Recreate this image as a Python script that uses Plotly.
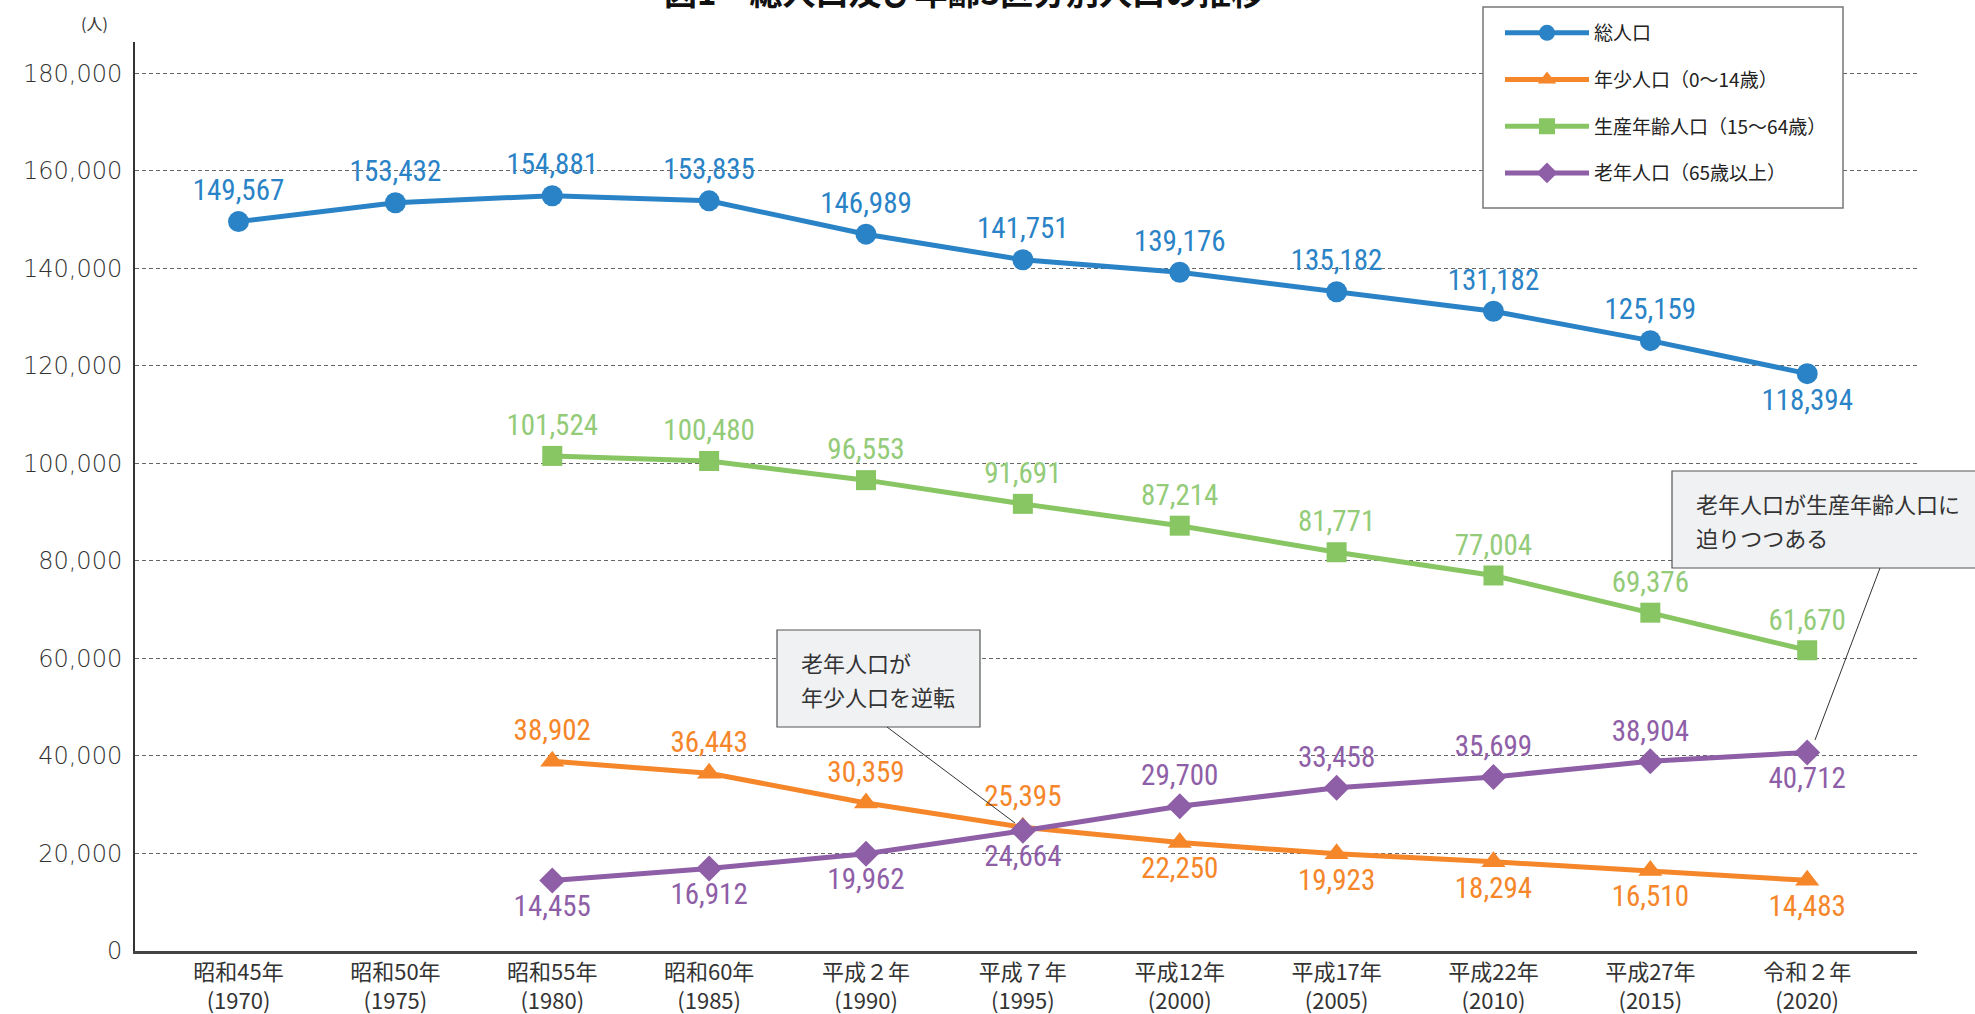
import plotly.graph_objects as go

# data
years = ["昭和45年<br>(1970)", "昭和50年<br>(1975)", "昭和55年<br>(1980)", "昭和60年<br>(1985)",
         "平成２年<br>(1990)", "平成７年<br>(1995)", "平成12年<br>(2000)", "平成17年<br>(2005)",
         "平成22年<br>(2010)", "平成27年<br>(2015)", "令和２年<br>(2020)"]
total = [149567, 153432, 154881, 153835, 146989, 141751, 139176, 135182, 131182, 125159, 118394]
young = [None, None, 38902, 36443, 30359, 25395, 22250, 19923, 18294, 16510, 14483]
working = [None, None, 101524, 100480, 96553, 91691, 87214, 81771, 77004, 69376, 61670]
elderly = [None, None, 14455, 16912, 19962, 24664, 29700, 33458, 35699, 38904, 40712]
yticks = [0, 20000, 40000, 60000, 80000, 100000, 120000, 140000, 160000, 180000]

# label positions
pos_total = ["top center"] * 10 + ["bottom center"]
pos_young = ["top center"] * 6 + ["bottom center"] * 5
pos_working = ["top center"] * 11
pos_elderly = ["bottom center"] * 6 + ["top center"] * 4 + ["bottom center"]

W, H = 1975, 1014
L, R, T, B = 135, 58, 42, 63
XR = [-0.66, 10.7]
YR = [0, 186400]
pw, ph = W - L - R, H - T - B


def px_x(px):
    return XR[0] + (px - L) / pw * (XR[1] - XR[0])


def px_y(py):
    return YR[0] + (H - B - py) / ph * (YR[1] - YR[0])


def pap_x(px):
    return (px - L) / pw


def pap_y(py):
    return (H - B - py) / ph


num_font = "Roboto Condensed, Liberation Sans Narrow, Roboto, sans-serif"
jp_font = "Noto Sans CJK JP, sans-serif"

series = [
    ("総人口", total, "#2A83C6", "#2A83C6", "circle", 21, pos_total),
    ("年少人口（0～14歳）", young, "#F5862A", "#F5862A", "triangle-up", 21, pos_young),
    ("生産年齢人口（15～64歳）", working, "#88C663", "#93CB78", "square", 20, pos_working),
    ("老年人口（65歳以上）", elderly, "#8E5EA7", "#8E5EA7", "diamond", 20, pos_elderly),
]

x = list(range(len(years)))
fig = go.Figure()
for i, (name, vals, col, tcol, sym, size, pos) in enumerate(series):
    fig.add_trace(go.Scatter(
        x=x, y=vals, name=name, mode="lines+markers+text",
        line=dict(color=col, width=5),
        marker=dict(symbol=sym, size=size, color=col),
        texttemplate="%{y:,}", textposition=pos,
        textfont=dict(family=num_font, size=29, color=tcol),
        legendgroup=str(i), cliponaxis=False,
    ))

# legend frame
fig.add_shape(type="rect", xref="paper", yref="paper",
              x0=pap_x(1483), x1=pap_x(1843), y0=pap_y(208), y1=pap_y(7),
              fillcolor="white", line=dict(color="#777777", width=1.5), layer="above")

# callout boxes
boxes = [
    (777, 630, 980, 727, ["老年人口が", "年少人口を逆転"], (887, 727, 1015, 823)),
    (1672, 471, 2000, 568, ["老年人口が生産年齢人口に", "迫りつつある"], (1880, 568, 1815, 740)),
]
for x0, y0, x1, y1, lines, lead in boxes:
    fig.add_shape(type="rect", xref="paper", yref="paper",
                  x0=pap_x(x0), x1=pap_x(x1), y0=pap_y(y1), y1=pap_y(y0),
                  fillcolor="#F0F1F3", line=dict(color="#555555", width=1.2), layer="above")
    for k, t in enumerate(lines):
        fig.add_annotation(xref="paper", yref="paper", x=pap_x(x0 + 22), y=pap_y(y0 + 32 + 34 * k),
                           text=t, showarrow=False, xanchor="left", yanchor="middle",
                           font=dict(family=jp_font, size=22, color="#333333"))
    fig.add_shape(type="line", xref="x", yref="y",
                  x0=px_x(lead[0]), y0=px_y(lead[1]), x1=px_x(lead[2]), y1=px_y(lead[3]),
                  line=dict(color="#333333", width=1), layer="above")

fig.add_annotation(xref="paper", yref="paper", x=pap_x(94), y=pap_y(23), text="(人)",
                   showarrow=False, xanchor="center", yanchor="middle",
                   font=dict(family=jp_font, size=16, color="#333333"))
fig.add_annotation(xref="paper", yref="paper", x=pap_x(964), y=pap_y(17), text="図1　総人口及び年齢3区分別人口の推移",
                   showarrow=False, xanchor="center", yanchor="bottom",
                   font=dict(family=jp_font, size=33, color="#111111", weight="bold"))

fig.update_layout(
    width=W, height=H,
    margin=dict(l=L, r=R, t=T, b=B, autoexpand=False),
    plot_bgcolor="white", paper_bgcolor="white",
    showlegend=True,
    legend=dict(x=pap_x(1500), y=pap_y(14), xanchor="left", yanchor="top",
                bgcolor="rgba(0,0,0,0)", borderwidth=0,
                font=dict(family=jp_font, size=19, color="#222222"),
                traceorder="grouped", tracegroupgap=19, itemwidth=84),
    xaxis=dict(range=XR, tickvals=x, ticktext=years, showgrid=False, zeroline=False,
               showline=True, linecolor="#444444", linewidth=2.5, ticks="",
               automargin=False,
               tickfont=dict(family=jp_font, size=22, color="#333333")),
    yaxis=dict(range=YR, tickvals=yticks, tickformat=",", showgrid=True,
               gridcolor="#666666", gridwidth=1, griddash="4px,3px", zeroline=False,
               showline=True, linecolor="#333333", linewidth=2, ticks="",
               ticklabelstandoff=6, automargin=False,
               tickfont=dict(family="DejaVu Sans, sans-serif", size=24, color="#333333", weight=300)),
)

# page body has a default 8px margin; remove it so the figure fills the window
fig.write_html("out.html", config={"displayModeBar": False},
               post_script="document.body.style.margin='0';")
